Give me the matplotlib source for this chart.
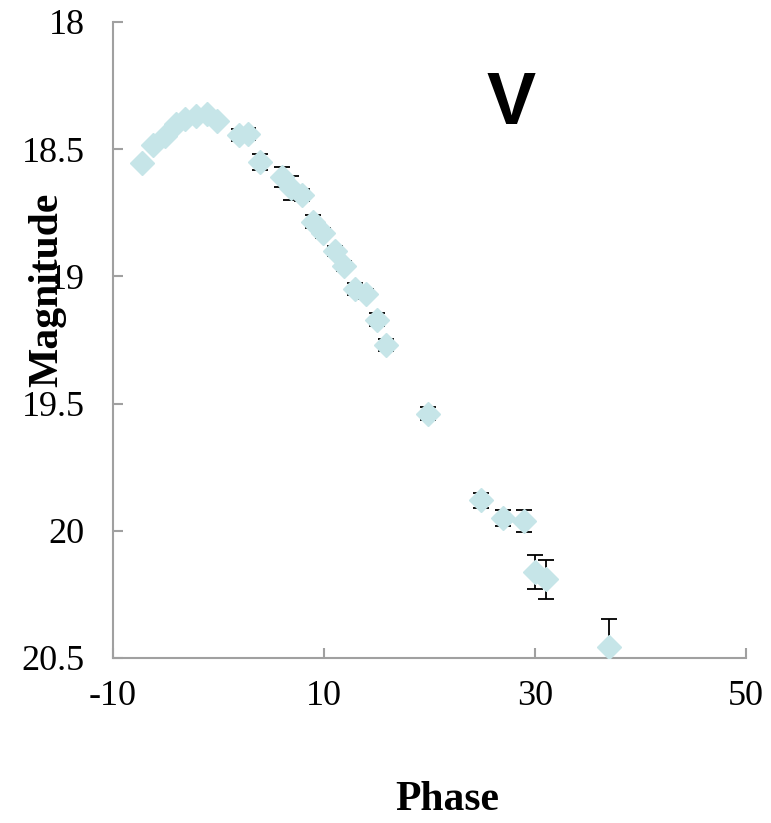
import matplotlib
matplotlib.use("Agg")
import matplotlib.pyplot as plt

plt.rcParams["axes.unicode_minus"] = False

phase = [-7.25, -6.2, -5.1, -4.0, -3.2, -2.1, -1.1, -0.1, 1.9, 2.8, 3.9, 6.0, 6.9, 7.9,
         9.0, 9.9, 11.0, 11.9, 12.9, 14.0, 15.0, 15.9, 19.9, 24.9, 27.0, 29.0, 30.0, 31.0, 37.0]
mag = [18.555, 18.485, 18.448, 18.40, 18.38, 18.37, 18.36, 18.39, 18.444, 18.44, 18.55, 18.61,
       18.654, 18.68, 18.785, 18.83, 18.90, 18.96, 19.05, 19.07, 19.17, 19.27, 19.54, 19.88,
       19.95, 19.96, 20.163, 20.19, 20.456]
err = [0.01, 0.01, 0.01, 0.01, 0.01, 0.01, 0.01, 0.01, 0.025, 0.025, 0.03, 0.04, 0.047, 0.025,
       0.025, 0.02, 0.02, 0.02, 0.025, 0.02, 0.025, 0.025, 0.025, 0.03, 0.033, 0.043, 0.067,
       0.077, 0.108]
xticks = [-10, 10, 30, 50]
yticks = [18, 18.5, 19, 19.5, 20, 20.5]
yticklabels = ["18", "18.5", "19", "19.5", "20", "20.5"]

serif = ["Liberation Serif", "DejaVu Serif"]
fig = plt.figure(figsize=(7.71, 8.23), dpi=100)
ax = fig.add_axes([113/771, 1-658/823, 633/771, 636/823])

ax.errorbar(phase, mag, yerr=err, fmt="none", ecolor="black", elinewidth=1.3,
            capsize=5.5, capthick=1.3, zorder=2)
ax.plot(phase, mag, linestyle="none", marker="D", markersize=12.5,
        markerfacecolor="#C6E5E8", markeredgecolor="#C6E5E8", zorder=3)

ax.set_xlim(-10, 50)
ax.set_ylim(20.5, 18)
ax.set_xticks(xticks)
ax.set_yticks(yticks)
ax.set_yticklabels(yticklabels)
for s in ["top", "right"]:
    ax.spines[s].set_visible(False)
for s in ["left", "bottom"]:
    ax.spines[s].set_color("#A0A0A0")
    ax.spines[s].set_linewidth(1.5)
ax.tick_params(direction="in", length=7, width=1.5, color="#A0A0A0")
ax.tick_params(axis="y", pad=20.5)
ax.tick_params(axis="x", pad=16)
for lab in ax.get_xticklabels() + ax.get_yticklabels():
    lab.set_fontfamily(serif)
    lab.set_fontsize(26)

fig.text(47/771, 1-290/823, "Magnitude", rotation=90, ha="center", va="center",
         fontsize=30, fontweight="bold", family=serif)
fig.text(447/771, 1-800/823, "Phase", ha="center", va="center",
         fontsize=30, fontweight="bold", family=serif)
fig.text(511/771, 1-105/823, "V", ha="center", va="center",
         fontsize=53, fontweight="bold", family=["Liberation Sans", "DejaVu Sans"])

fig.savefig("out.png", dpi=100)
